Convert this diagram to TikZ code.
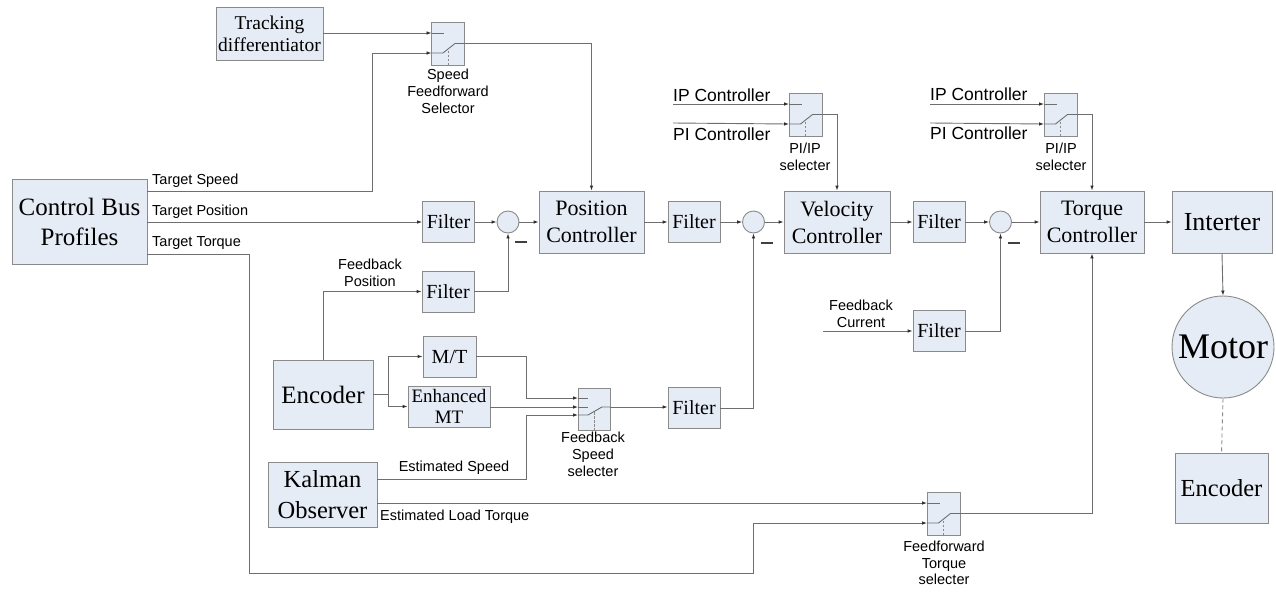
\documentclass[tikz,border=0pt]{standalone}
\usepackage{fontspec}
\setmainfont{Liberation Serif}
\setsansfont{Liberation Sans}
\usetikzlibrary{arrows.meta,calc}
\definecolor{boxfill}{HTML}{E6ECF6}
\definecolor{boxline}{HTML}{8A8A8A}
\definecolor{wirec}{HTML}{6E6E6E}
\definecolor{tipc}{HTML}{303030}

% switch symbol inside a two-input selector box
\newcommand{\switchtwo}[1]{%
  \begin{scope}[shift={(#1.center)}]
    \coordinate (#1-in1) at (-16.5,-10.5);
    \coordinate (#1-in2) at (-16.5,9.5);
    \coordinate (#1-out) at (16.5,0);
    \draw[wire] (#1-in1) -- (-4,-10.5);
    \draw[wire] (#1-in2) -- (-5,9.5) -- (7,0) -- (#1-out);
    \draw[swdash] (0,7) -- (0,21.5);
  \end{scope}}
% switch symbol inside a three-input selector box
\newcommand{\switchthree}[1]{%
  \begin{scope}[shift={(#1.center)}]
    \coordinate (#1-in1) at (-16,-11);
    \coordinate (#1-in2) at (-16,-2);
    \coordinate (#1-in3) at (-16,6);
    \coordinate (#1-out) at (16,-2);
    \draw[wire] (#1-in1) -- (-6,-11);
    \draw[wire] (#1-in2) -- (-6,-2);
    \draw[wire] (#1-in3) -- (-6,6) -- (8,-2) -- (#1-out);
    \draw[swdash] (0,3) -- (0,21);
  \end{scope}}

\begin{document}
\begin{tikzpicture}[x=1pt,y=-1pt,
  blk/.style={draw=boxline, fill=boxfill, line width=0.9pt, inner sep=0pt, align=center},
  filterbox/.style={blk, minimum width=52pt, minimum height=41pt, font=\fontsize{20}{23}\selectfont},
  ctrl/.style={blk, minimum width=105pt, minimum height=62pt, font=\fontsize{22}{27}\selectfont},
  selbox/.style={blk, minimum width=33pt, minimum height=43pt},
  sumj/.style={circle, draw=boxline, fill=boxfill, line width=0.9pt, minimum size=22pt, inner sep=0pt},
  wire/.style={draw=wirec, line width=0.9pt},
  swdash/.style={draw=wirec!80, line width=0.8pt, dash pattern=on 2.5pt off 1.5pt},
  arr/.style={wire, -{Latex[length=5pt,width=3.6pt,color=tipc]}},
  minus/.style={draw=black!75, line width=1.6pt},
  lbl/.style={font=\sffamily\fontsize{14.5}{16.8}\selectfont, inner sep=0pt, align=center},
  biglbl/.style={font=\sffamily\fontsize{17.5}{20}\selectfont, inner sep=0pt, anchor=west},
]
\useasboundingbox (0,0) rectangle (1276,592);

% ---- blocks ----
\node[blk, minimum width=107pt, minimum height=53pt, font=\fontsize{19.5}{22}\selectfont] (track) at (269.5,33.5) {Tracking\\differentiator};
\node[selbox] (ssel) at (448,43.5) {};
\node[blk, minimum width=135pt, minimum height=85pt, font=\fontsize{25}{30}\selectfont] (cbp) at (79.5,221.5) {Control Bus\\Profiles};
\node[filterbox] (f1) at (448.5,222) {Filter};
\node[sumj] (s1) at (508,222) {};
\node[ctrl] (pc) at (591.5,222) {Position\\Controller};
\node[filterbox] (f3) at (694,222) {Filter};
\node[sumj] (s2) at (753.5,222) {};
\node[ctrl, minimum width=106pt] (vc) at (837,222) {Velocity\\Controller};
\node[filterbox] (f4) at (939,222) {Filter};
\node[sumj] (s3) at (1000.5,222) {};
\node[ctrl, minimum width=104pt] (tc) at (1092,222) {Torque\\Controller};
\node[blk, minimum width=100pt, minimum height=62pt, font=\fontsize{26}{30}\selectfont] (inv) at (1222,222) {Interter};
\node[circle, draw=boxline, fill=boxfill, line width=0.9pt, minimum size=102pt, inner sep=0pt, font=\fontsize{36}{40}\selectfont] (motor) at (1223,347) {Motor};
\node[blk, minimum width=93pt, minimum height=70pt, font=\fontsize{24.5}{28}\selectfont] (enc2) at (1221.5,488) {Encoder};
\node[filterbox] (f2) at (448,291.5) {Filter};
\node[blk, minimum width=100pt, minimum height=69pt, font=\fontsize{25}{28}\selectfont] (enc) at (323,394.5) {Encoder};
\node[blk, minimum width=53pt, minimum height=41pt, font=\fontsize{20}{23}\selectfont] (mt) at (449.5,356.5) {M/T};
\node[blk, minimum width=82pt, minimum height=41pt, font=\fontsize{19}{21.5}\selectfont] (emt) at (449,406.5) {Enhanced\\MT};
\node[selbox, minimum width=32pt, minimum height=42pt] (fsel) at (594,409) {};
\node[filterbox] (f5) at (694,408) {Filter};
\node[blk, minimum width=109pt, minimum height=65pt, font=\fontsize{24.5}{31}\selectfont] (kal) at (322.5,494.5) {Kalman\\Observer};
\node[filterbox] (fcur) at (939,331) {Filter};
\node[selbox] (ffsel) at (943.5,513.5) {};
\node[selbox] (pisel1) at (805.5,114.5) {};
\node[selbox] (pisel2) at (1060.5,114.5) {};

\switchtwo{ssel}
\switchtwo{ffsel}
\switchtwo{pisel1}
\switchtwo{pisel2}
\switchthree{fsel}

% ---- free wire ends ----
\coordinate (ipin1) at (673,104);
\coordinate (piin1) at (673,123);
\coordinate (ipin2) at (930,104);
\coordinate (piin2) at (930,123);
\coordinate (fbcur) at (823,331);
\coordinate (eb) at (388,394.5);

% ---- connectors ----
\draw[arr] (track.east |- ssel-in1) -- (ssel-in1);
\draw[arr] ([yshift=30.5pt]cbp.east) -- ++(225,0) |- (ssel-in2);
\draw[arr] (ssel-out) -| (pc.north);
\draw[arr] (cbp.east |- f1.west) -- (f1.west);
\draw[arr] (f1.east) -- (s1.west);
\draw[arr] (s1.east) -- (pc.west);
\draw[arr] (f2.east) -| (s1.south);
\draw[arr] (enc.north) |- (f2.west);
\draw[arr] (pc.east) -- (f3.west);
\draw[arr] (f3.east) -- (s2.west);
\draw[arr] (s2.east) -- (vc.west);
\draw[arr] (vc.east) -- (f4.west);
\draw[arr] (f4.east) -- (s3.west);
\draw[arr] (s3.east) -- (tc.west);
\draw[arr] (tc.east) -- (inv.west);
\draw[arr] (inv.south) -- (motor.north);
\draw[draw=wirec!80, line width=0.9pt, dash pattern=on 4pt off 3pt] (motor.south) -- (enc2.north);
\draw[arr] (fbcur) -- (fcur.west);
\draw[arr] (fcur.east) -| (s3.south);
\draw[wire] (enc.east) -- (eb);
\draw[arr] (eb) |- (mt.west);
\draw[arr] (eb) |- (emt.west);
\draw[arr] (mt.east) -- ++(50,0) |- (fsel-in1);
\draw[arr] (emt.east |- fsel-in2) -- (fsel-in2);
\draw[arr] ([yshift=15.5pt]kal.east) -- ++(149,0) |- (fsel-in3);
\draw[arr] (fsel-out) -- (fsel-out -| f5.west);
\draw[arr] (f5.east) -| (s2.south);
\draw[arr] (kal.east |- ffsel-in1) -- (ffsel-in1);
\draw[arr] ([yshift=-32.5pt]cbp.east) -- ++(102,0) -- ++(0,319) -- ++(504,0) |- (ffsel-in2);
\draw[arr] (ffsel-out) -| (tc.south);
\draw[arr] (ipin1) -- (pisel1-in1);
\draw[arr] (piin1) -- (pisel1-in2);
\draw[arr] (pisel1-out) -| (vc.north);
\draw[arr] (ipin2) -- (pisel2-in1);
\draw[arr] (piin2) -- (pisel2-in2);
\draw[arr] (pisel2-out) -| (tc.north);

% ---- minus signs at the summing junctions ----
\draw[minus] ($(s1.center)+(7,20)$) -- ++(12,0);
\draw[minus] ($(s2.center)+(7,21)$) -- ++(12,0);
\draw[minus] ($(s3.center)+(7,21)$) -- ++(12,0);

% ---- labels ----
\node[lbl, anchor=west] (lts) at (152,181) {Target Speed};
\node[lbl, anchor=west] (ltp) at (152,212) {Target Position};
\node[lbl, anchor=west] (ltt) at (152,243) {Target Torque};
\node[lbl] (lfp) at (370,273) {Feedback\\Position};
\node[lbl] (lssel) at (448,91.5) {Speed\\Feedforward\\Selector};
\node[lbl] (lfsel) at (593,454.5) {Feedback\\Speed\\selecter};
\node[lbl] (les) at (454,468) {Estimated Speed};
\node[lbl, anchor=west] (lelt) at (380,517) {Estimated Load Torque};
\node[lbl] (lffsel) at (944,563) {Feedforward\\Torque\\selecter};
\node[lbl] (lpi1) at (805,156.5) {PI/IP\\selecter};
\node[lbl] (lpi2) at (1061,156.5) {PI/IP\\selecter};
\node[biglbl] (lip1) at (673,95) {IP Controller};
\node[biglbl] (lpic1) at (673,134) {PI Controller};
\node[biglbl] (lip2) at (930,94) {IP Controller};
\node[biglbl] (lpic2) at (930,133) {PI Controller};
\node[lbl] (lfc) at (861,313.5) {Feedback\\Current};
\end{tikzpicture}
\end{document}
